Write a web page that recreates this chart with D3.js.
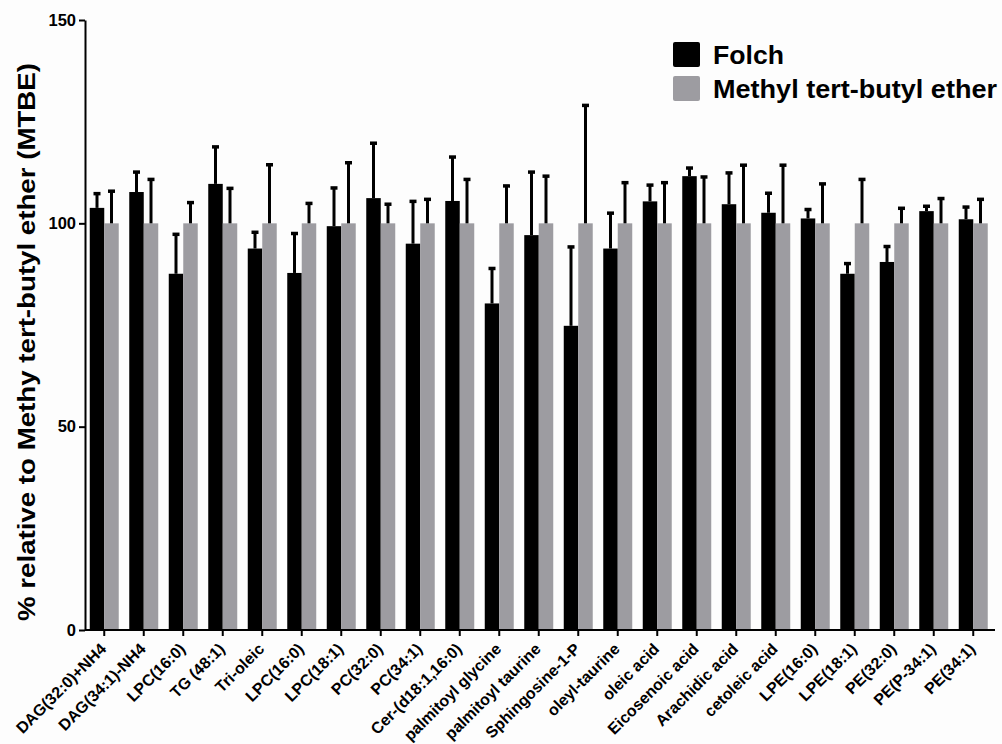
<!DOCTYPE html>
<html lang="en">
<head>
<meta charset="UTF-8">
<title>Folch vs MTBE extraction</title>
<script src="https://cdnjs.cloudflare.com/ajax/libs/d3/7.8.5/d3.min.js"></script>
<style>
    body {
        margin: 0;
        background: #fdfdfd;
        font-family: 'Liberation Sans', Arial, Helvetica, sans-serif;
    }
    svg text { font-weight: bold; fill: #000; }
    .axis path, .axis line { stroke: #000; stroke-width: 2px; }
    .axis text { font-size: 16.5px; font-family: 'Liberation Sans', Arial, sans-serif; }
    .x.axis text { font-size: 16px; }
</style>
</head>
<body>
<div id="chart"></div>
<script>
// lipid species (x axis)
const categories = [
    "DAG(32:0)+NH4", "DAG(34:1)-NH4", "LPC(16:0)", "TG (48:1)", "Tri-oleic",
    "LPC(16:0)", "LPC(18:1)", "PC(32:0)", "PC(34:1)", "Cer-(d18:1,16:0)",
    "palmitoyl glycine", "palmitoyl taurine", "Sphingosine-1-P", "oleyl-taurine",
    "oleic acid", "Eicosenoic acid", "Arachidic acid", "cetoleic acid",
    "LPE(16:0)", "LPE(18:1)", "PE(32:0)", "PE(P-34:1)", "PE(34:1)"
];
const seriesNames = ["Folch", "Methyl tert-butyl ether"];

// % relative to MTBE
const folch = [103.8, 107.7, 87.6, 109.7, 93.8, 87.8, 99.3, 106.2, 95.0, 105.5,
    80.3, 97.1, 74.8, 93.8, 105.4, 111.6, 104.7, 102.6, 101.2, 87.6, 90.5, 103.0, 101.0];
const folchErr = [3.5, 4.9, 9.7, 9.1, 4.0, 9.7, 9.4, 13.5, 10.4, 10.8,
    8.6, 15.5, 19.4, 8.7, 4.0, 2.0, 7.7, 4.8, 2.2, 2.5, 3.8, 1.2, 3.0];
const mtbe = [100, 100, 100, 100, 100, 100, 100, 100, 100, 100,
    100, 100, 100, 100, 100, 100, 100, 100, 100, 100, 100, 100, 100];
const mtbeErr = [7.9, 10.8, 5.1, 8.6, 14.4, 4.9, 14.9, 4.7, 5.9, 10.8,
    9.2, 11.6, 29.0, 10.0, 10.0, 11.4, 14.3, 14.3, 9.7, 10.8, 3.7, 6.1, 5.9];
const yTicks = [0, 50, 100, 150];

const colors = ["#000000", "#9d9ca1"];

const width = 1002, height = 744;
const margin = { top: 20, right: 9, bottom: 114, left: 85 };

const svg = d3.select("#chart").append("svg")
    .attr("width", width)
    .attr("height", height);

const data = categories.map((c, i) => ({
    idx: i,
    name: c,
    values: [
        { key: 0, v: folch[i], e: folchErr[i] },
        { key: 1, v: mtbe[i], e: mtbeErr[i] }
    ]
}));

const x0 = d3.scaleBand()
    .domain(d3.range(categories.length))
    .range([margin.left - 0.5, margin.left - 0.5 + 39.5 * categories.length])
    .padding(0);

const bw = x0.bandwidth();
const x1 = d3.scaleBand()
    .domain([0, 1])
    .range([bw * 0.133, bw * 0.867])
    .padding(0);

const y = d3.scaleLinear()
    .domain([0, 150])
    .range([height - margin.bottom, margin.top]);

// bars
const groups = svg.append("g").selectAll("g")
    .data(data)
    .join("g")
    .attr("transform", d => `translate(${x0(d.idx)},0)`);

groups.selectAll("rect")
    .data(d => d.values)
    .join("rect")
    .attr("x", d => x1(d.key))
    .attr("y", d => y(d.v))
    .attr("width", x1.bandwidth())
    .attr("height", d => y(0) - y(d.v))
    .attr("fill", d => colors[d.key]);

// error bars (upper only)
const err = groups.selectAll("g.err")
    .data(d => d.values)
    .join("g")
    .attr("class", "err");

err.append("line")
    .attr("x1", d => x1(d.key) + x1.bandwidth() / 2)
    .attr("x2", d => x1(d.key) + x1.bandwidth() / 2)
    .attr("y1", d => y(d.v))
    .attr("y2", d => y(d.v + d.e))
    .attr("stroke", "#000")
    .attr("stroke-width", 3);

err.append("line")
    .attr("x1", d => x1(d.key) + x1.bandwidth() / 2 - 3.5)
    .attr("x2", d => x1(d.key) + x1.bandwidth() / 2 + 3.5)
    .attr("y1", d => y(d.v + d.e))
    .attr("y2", d => y(d.v + d.e))
    .attr("stroke", "#000")
    .attr("stroke-width", 3.5);

// Y axis
svg.append("g")
    .attr("class", "axis")
    .attr("transform", `translate(${margin.left},0)`)
    .call(d3.axisLeft(y).tickValues(yTicks).tickSize(6).tickSizeOuter(0).tickPadding(3));

// X axis
const xAxis = svg.append("g")
    .attr("class", "x axis")
    .attr("transform", `translate(0,${y(0)})`)
    .call(d3.axisBottom(x0).tickSize(6).tickSizeOuter(0).tickFormat(i => categories[i]));

xAxis.select(".domain").attr("d", `M${margin.left},0H${width - 7}`);

xAxis.selectAll(".tick text")
    .attr("text-anchor", "end")
    .attr("dy", 0)
    .attr("y", 0)
    .attr("transform", "translate(3,20) rotate(-45)");

// Y axis label
svg.append("text")
    .attr("transform", `translate(35,${342}) rotate(-90)`)
    .attr("text-anchor", "middle")
    .attr("textLength", 558)
    .attr("lengthAdjust", "spacingAndGlyphs")
    .style("font-size", "24px")
    .text("% relative to Methy tert-butyl ether (MTBE)");

// legend
const legendWidths = [71, 284];
const legend = svg.append("g").attr("transform", "translate(673,42)");
seriesNames.forEach((s, i) => {
    const g = legend.append("g").attr("transform", `translate(0,${i * 34})`);
    g.append("rect")
        .attr("width", 27)
        .attr("height", 25)
        .attr("rx", 2)
        .attr("fill", colors[i]);
    g.append("text")
        .attr("x", 40)
        .attr("y", 22)
        .attr("textLength", legendWidths[i])
        .attr("lengthAdjust", "spacingAndGlyphs")
        .style("font-size", "25px")
        .text(s);
});
</script>
</body>
</html>
